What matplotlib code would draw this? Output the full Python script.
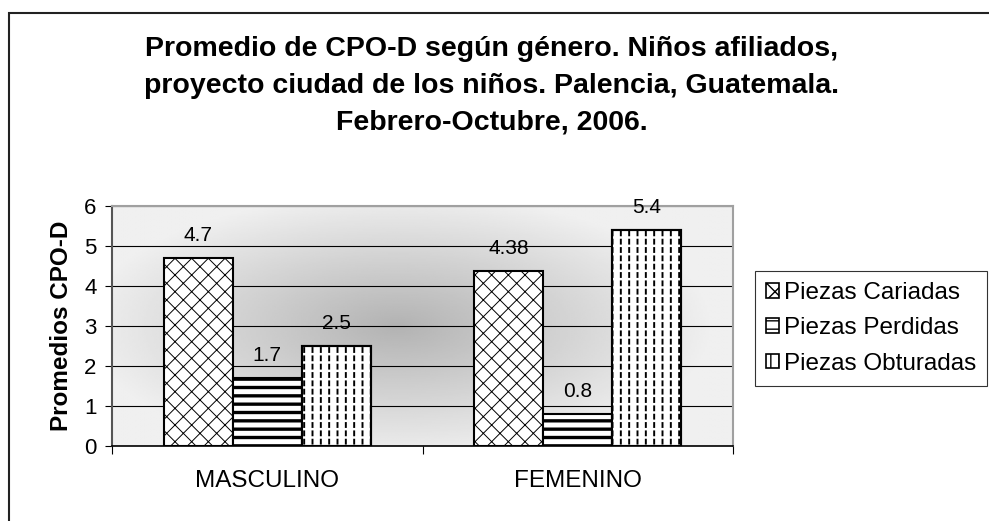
import matplotlib.pyplot as plt
import numpy as np
from matplotlib.patches import Patch, Rectangle

plt.rcParams['font.family'] = ['Liberation Sans', 'DejaVu Sans']

categories = ["MASCULINO", "FEMENINO"]
series = ["Piezas Cariadas", "Piezas Perdidas", "Piezas Obturadas"]
cariadas = [4.7, 4.38]
perdidas = [1.7, 0.8]
obturadas = [2.5, 5.4]
value_labels = [["4.7", "4.38"], ["1.7", "0.8"], ["2.5", "5.4"]]

title = ("Promedio de CPO-D según género. Niños afiliados,\n"
         "proyecto ciudad de los niños. Palencia, Guatemala.\n"
         "Febrero-Octubre, 2006.")

fig = plt.figure(figsize=(9.89, 5.21), dpi=100)
fig.patch.set_facecolor("white")

# outer frame, running off the right and bottom edges
fig.patches.append(Rectangle((9 / 989, -0.05), 1.1, 1 - 13 / 521 + 0.05,
                             transform=fig.transFigure, fill=False,
                             edgecolor="#222222", linewidth=1.5))

ax = fig.add_axes([112 / 989, 1 - 446 / 521, 621 / 989, 240 / 521])

# gray radial gradient background
gx, gy = np.meshgrid(np.linspace(0, 1, 300), np.linspace(0, 1, 200))
r = np.sqrt(((gx - 0.46) / 0.55) ** 2 + ((gy - 0.5) / 0.6) ** 2)
shade = np.clip(0.70 + 0.26 * r, 0.70, 0.94)
ax.imshow(shade, cmap="gray", vmin=0, vmax=1, extent=[0, 1, 0, 1],
          transform=ax.transAxes, aspect="auto", zorder=0,
          interpolation="bilinear")

x = np.arange(len(categories))
w = 0.222
values = [cariadas, perdidas, obturadas]
hatches = ["xx", "--", "||"]
hatch_lw = [0.7, 2.4, 1.4]
bars = []
for i, (vals, h) in enumerate(zip(values, hatches)):
    b = ax.bar(x + (i - 1) * w, vals, w, color="white", edgecolor="black",
               hatch=h, linewidth=1.5, zorder=3)
    bars.append(b)
    for rect in b:
        try:
            rect.set_hatch_linewidth(hatch_lw[i])
        except AttributeError:
            pass
    for rect, lab in zip(b, value_labels[i]):
        ax.annotate(lab, (rect.get_x() + rect.get_width() / 2, rect.get_height()),
                    xytext=(0, 12), textcoords="offset points",
                    ha="center", va="baseline", fontsize=15, zorder=5)

# break the vertical lines of the last series into dashes
gaps = ax.bar(x + w, obturadas, w, color="none", edgecolor="white",
              hatch="--", linewidth=0, zorder=3.5)
for rect in gaps:
    try:
        rect.set_hatch_linewidth(1.8)
    except AttributeError:
        pass
ax.bar(x + w, obturadas, w, color="none", edgecolor="black",
       linewidth=1.5, zorder=4)

ax.set_xlim(-0.5, 1.5)
ax.set_ylim(0, 6)
ax.set_yticks(range(0, 7))
ax.yaxis.grid(True, color="black", linewidth=0.8)
for gl in ax.get_ygridlines():
    gl.set_zorder(1)

ax.set_xticks([-0.5, 0.5, 1.5])
ax.set_xticklabels([])
ax.set_xticks(x, minor=True)
ax.set_xticklabels(categories, minor=True, fontsize=17.5)
ax.tick_params(axis="x", which="major", direction="out", length=6, width=0.8)
ax.tick_params(axis="x", which="minor", length=0, pad=17)
ax.tick_params(axis="y", direction="out", length=5, width=0.8, pad=6,
               labelsize=16)

for side in ["top", "right"]:
    ax.spines[side].set_color("#a0a0a0")
    ax.spines[side].set_linewidth(1.5)
ax.spines["left"].set_color("#555555")
ax.spines["left"].set_linewidth(1.5)
ax.spines["bottom"].set_color("black")
ax.spines["bottom"].set_linewidth(1.2)

ax.set_ylabel("Promedios CPO-D", fontsize=17.5, fontweight="bold", labelpad=8)

fig.text(0.497, 1 - 86 / 521, title, ha="center", va="center",
         fontsize=20.5, fontweight="bold", linespacing=1.53)

handles = []
for h, lw in zip(hatches, hatch_lw):
    p = Patch(facecolor="white", edgecolor="black", hatch=h, linewidth=1.2)
    try:
        p.set_hatch_linewidth(lw)
    except AttributeError:
        pass
    handles.append(p)
leg = fig.legend(handles, series, loc="upper left",
                 bbox_to_anchor=(755 / 989, 1 - 271 / 521), fontsize=17.5,
                 frameon=True, fancybox=False, handlelength=0.55,
                 handleheight=0.55, handletextpad=0.2, labelspacing=0.55,
                 borderpad=0.45, borderaxespad=0)
leg.get_frame().set_edgecolor("black")
leg.get_frame().set_linewidth(0.8)

fig.savefig("out.png", dpi=100)
